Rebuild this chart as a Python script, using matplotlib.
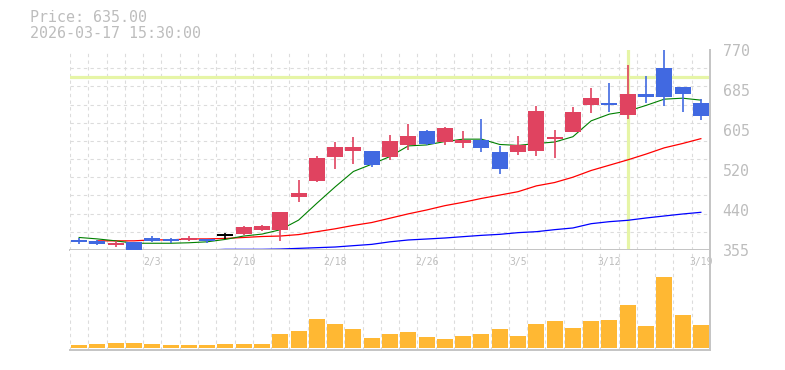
import numpy as np
import matplotlib
matplotlib.use("Agg")
import matplotlib.pyplot as plt

# trading days shown on the chart
dates = ['1/28', '1/29', '1/30', '2/2', '2/3', '2/4', '2/5', '2/6', '2/9', '2/10',
         '2/12', '2/13', '2/16', '2/17', '2/18', '2/19', '2/20', '2/24', '2/25', '2/26',
         '2/27', '3/2', '3/3', '3/4', '3/5', '3/6', '3/9', '3/10', '3/11', '3/12',
         '3/13', '3/16', '3/17', '3/18', '3/19']

opens = [376, 374, 366, 372, 380, 378, 376, 377, 386, 389, 396, 396, 466, 498, 548, 560, 560, 549,
         573, 602, 579, 577, 583, 558, 558, 560, 585, 600, 656, 660, 635, 679, 733, 693, 660]
highs = [379, 376, 374, 372, 384, 379, 384, 378, 391, 405, 407, 434, 500, 550, 580, 590, 560, 594,
         617, 604, 610, 602, 627, 571, 592, 654, 604, 652, 691, 702, 739, 716, 770, 693, 668]
lows = [368, 366, 362, 352, 372, 369, 374, 369, 378, 387, 394, 374, 455, 496, 523, 533, 527, 542,
        562, 573, 573, 567, 558, 513, 552, 550, 546, 600, 639, 641, 627, 660, 654, 641, 625]
closes = [372, 368, 370, 355, 374, 374, 380, 373, 386, 403, 405, 434, 473, 546, 569, 569, 531, 581,
          592, 575, 608, 583, 567, 524, 573, 643, 590, 641, 670, 656, 679, 672, 672, 679, 633]

# moving averages (5 / 25 / 75 day)
ma_short = [381, 378, 374, 369, 369, 369, 370, 372, 377, 384, 388, 397, 417, 452, 486, 518, 533, 549,
            571, 573, 580, 585, 585, 574, 572, 576, 579, 590, 623, 637, 643, 655, 668, 670, 666]
ma_mid = [np.nan, 374, 374, 374, 376, 376, 378, 378, 379, 381, 383, 384, 387, 393, 399, 406, 412, 421,
          430, 438, 447, 454, 462, 469, 476, 488, 495, 506, 520, 531, 542, 554, 567, 576, 586]
ma_long = [np.nan] * 7 + [355, 356.4, 356.4, 356.4, 357, 358.4, 359.8, 361.2, 364, 366.7, 372,
                          375.8, 377.8, 379.9, 382.7, 385.4, 387.5, 391, 393, 397.2, 400.7, 409.6,
                          413.8, 416.6, 421.4, 425.6, 429.7, 433.2]

volumes = [30, 40, 50, 50, 40, 30, 30, 30, 40, 40, 40, 140, 170, 290, 240, 190, 100, 140,
           160, 110, 90, 120, 140, 190, 120, 240, 270, 200, 270, 280, 430, 220, 710, 330, 230]

yticks = [355, 438, 521, 604, 687, 770]
ytick_labels = ['355', '440', '520', '605', '685', '770']
label_idx = [4, 9, 14, 19, 24, 29, 34]
cross_x = 30
cross_y = 714

UP = '#e04360'
DOWN = '#4169e1'
TXT = '#bdbdbd'
SPINE = '#c4c4c4'
GRID = '#dcdcdc'
CROSS = '#e6f5a6'
MONO = 'DejaVu Sans Mono'

W, H = 785, 370
fig = plt.figure(figsize=(W / 100, H / 100), dpi=100)
ax = fig.add_axes([70 / W, (H - 250) / H, 640 / W, 200 / H])
axv = fig.add_axes([70 / W, (H - 350) / H, 640 / W, 100 / H], sharex=ax)

n = len(dates)
x = np.arange(n)

for a in (ax, axv):
    a.set_xlim(-0.5, n - 0.5)
    a.set_xticks(np.arange(-0.5, n, 1), minor=True)
    a.set_xticks([])
    a.grid(which='minor', axis='x', color=GRID, linestyle=(0, (3, 3)), linewidth=0.8)
    for s in ('left', 'top'):
        a.spines[s].set_visible(False)
    for s in ('right', 'bottom'):
        a.spines[s].set_color(SPINE)
        a.spines[s].set_linewidth(1.4)
    a.tick_params(which='both', length=0, bottom=False, labelbottom=False)
    a.set_axisbelow(True)

# price panel
ax.set_ylim(355, 770)
ax.set_yticks(np.linspace(355, 770, 12), minor=True)
ax.grid(which='minor', axis='y', color=GRID, linestyle=(0, (3, 3)), linewidth=0.8)
ax.yaxis.tick_right()
ax.set_yticks(yticks)
ax.set_yticklabels(ytick_labels, fontfamily=MONO, fontsize=10.8, color=TXT)
ax.tick_params(axis='y', which='both', length=0, pad=9)

# crosshair behind the candles
ax.axhline(cross_y, color=CROSS, linewidth=2.3, zorder=1)
ax.axvline(cross_x, color=CROSS, linewidth=2.3, zorder=1)

ax.plot(x, ma_long, color='#0000ff', linewidth=0.9, zorder=2)
ax.plot(x, ma_mid, color='#ff0000', linewidth=0.9, zorder=2)
ax.plot(x, ma_short, color='#008000', linewidth=0.8, zorder=2)

for i in range(n):
    o, h, l, c = opens[i], highs[i], lows[i], closes[i]
    if c > o:
        col = UP
    elif c < o:
        col = DOWN
    else:
        col = 'black'
    ax.vlines(i, l, h, color=col, linewidth=1.2, zorder=3)
    body = max(abs(c - o), 2.5)
    ax.bar(i, body, bottom=min(o, c) - (body - abs(c - o)) / 2, width=0.87,
           color=col, linewidth=0, zorder=4)

# volume panel
axv.set_ylim(-20, 980)
axv.set_yticks([])
axv.bar(x, volumes, width=0.87, color='#ffb833', linewidth=0, zorder=3)
for i in label_idx:
    axv.text(i, 0.88, dates[i], transform=axv.get_xaxis_transform(), ha='center', va='center',
             fontfamily=MONO, fontsize=7, color=TXT, zorder=1)

fig.text(30 / W, 1 - 18 / H, 'Price: 635.00', fontfamily=MONO, fontsize=10.8, color=TXT,
         ha='left', va='center')
fig.text(30 / W, 1 - 33 / H, '2026-03-17 15:30:00', fontfamily=MONO, fontsize=10.8, color=TXT,
         ha='left', va='center')

fig.savefig('out.png', dpi=100)
